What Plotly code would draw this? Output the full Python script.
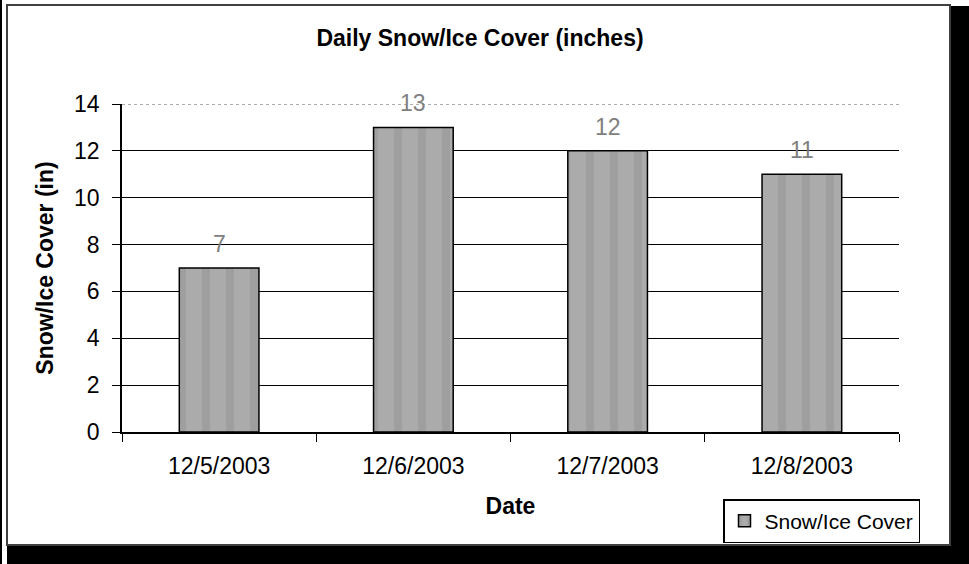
import plotly.graph_objects as go

dates = ["12/5/2003", "12/6/2003", "12/7/2003", "12/8/2003"]
snow_ice = [7, 13, 12, 11]
y_ticks = [0, 2, 4, 6, 8, 10, 12, 14]

W, H = 969, 564
L, T = 122, 104
R = W - 899
B = H - 432
pw, ph = W - L - R, H - T - B


def px_x(p):
    return (p - L) / pw


def px_y(p):
    return (H - B - p) / ph


FONT = "Liberation Sans, Arial, sans-serif"

fig = go.Figure()
fig.add_trace(go.Bar(
    x=dates, y=snow_ice, name="Snow/Ice Cover", width=0.41,
    marker=dict(color="#ababab", line=dict(color="black", width=1.5),
                pattern=dict(shape="|", bgcolor="#ababab", fgcolor="#9f9f9f",
                             size=24, solidity=0.33, fillmode="replace")),
    showlegend=True,
))

annotations = [dict(x=d, y=v, text=str(v), showarrow=False, yshift=24,
                    font=dict(family=FONT, size=23, color="#808080"),
                    xref="x", yref="y") for d, v in zip(dates, snow_ice)]

shapes = [
    dict(type="rect", xref="paper", yref="paper", x0=px_x(7), x1=px_x(950),
         y0=px_y(545), y1=px_y(5), line=dict(color="#404040", width=2),
         fillcolor="rgba(0,0,0,0)", layer="below"),
    dict(type="rect", xref="paper", yref="paper", x0=px_x(951), x1=px_x(990),
         y0=px_y(590), y1=px_y(6), line=dict(width=0), fillcolor="black"),
    dict(type="rect", xref="paper", yref="paper", x0=px_x(7), x1=px_x(990),
         y0=px_y(590), y1=px_y(546), line=dict(width=0), fillcolor="black"),
    dict(type="rect", xref="paper", yref="paper", x0=px_x(-5), x1=px_x(2),
         y0=px_y(590), y1=px_y(-5), line=dict(width=0), fillcolor="black"),
    dict(type="line", xref="paper", yref="y", x0=0, x1=1, y0=14, y1=14,
         line=dict(color="white", width=2), layer="between"),
    dict(type="line", xref="paper", yref="y", x0=0, x1=1, y0=14, y1=14,
         line=dict(color="#909090", width=1.5, dash="dot"), layer="between"),
]

fig.update_layout(
    width=W, height=H,
    margin=dict(l=L, r=R, t=T, b=B),
    paper_bgcolor="white", plot_bgcolor="white",
    font=dict(family=FONT, size=23, color="black"),
    title=dict(text="<b>Daily Snow/Ice Cover (inches)</b>",
               x=480 / W, xanchor="center",
               y=1 - 38 / H, yanchor="middle",
               font=dict(family=FONT, size=23, color="black")),
    xaxis=dict(type="category", tickson="boundaries", ticks="outside", ticklen=8,
               tickcolor="black", linecolor="black", linewidth=1.5, showline=True,
               showgrid=False, tickfont=dict(size=23, color="black"),
               ticklabelstandoff=13,
               title=dict(text="<b>Date</b>", standoff=20,
                          font=dict(family=FONT, size=23, color="black"))),
    yaxis=dict(range=[0, 14], tickvals=y_ticks, ticks="outside", ticklen=8,
               tickcolor="black", linecolor="black", linewidth=1.5, showline=True,
               showgrid=True, gridcolor="black", gridwidth=1.2, zeroline=False,
               tickfont=dict(size=23, color="black"), ticklabelstandoff=8,
               title=dict(text="<b>Snow/Ice Cover (in)</b>", standoff=14,
                          font=dict(family=FONT, size=23, color="black"))),
    legend=dict(x=px_x(920), y=px_y(499), xanchor="right", yanchor="top",
                bordercolor="black", borderwidth=1.5, bgcolor="white",
                font=dict(family=FONT, size=21, color="black"),
                itemwidth=30, tracegroupgap=0),
    annotations=annotations,
    shapes=shapes,
    bargap=0.59,
)

fig.write_html("out.html", config={"displayModeBar": False},
               post_script="document.body.style.margin='0';document.body.style.overflow='hidden';")
